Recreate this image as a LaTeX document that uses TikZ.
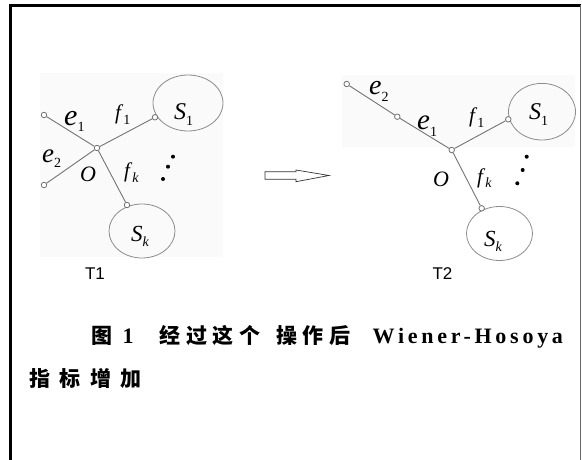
\documentclass[tikz,border=0pt]{standalone}
\usepackage{fontspec}
\setmainfont{Liberation Serif}
\newfontfamily\capcjk[LetterSpace=26]{Noto Sans CJK SC}
\newfontfamily\capcjkb[LetterSpace=44]{Noto Sans CJK SC}
\newfontfamily\caplat[LetterSpace=17]{Liberation Serif}
\newfontfamily\tlab{Liberation Sans}
\usetikzlibrary{shapes.geometric}
\newcommand\sublab[3]{\fontsize{#3}{#3}\selectfont\textit{#1}\raisebox{-0.22em}{\fontsize{14}{14}\selectfont #2}}
\begin{document}
\begin{tikzpicture}[x=1pt,y=-1pt,
  vtx/.style={circle,draw=black!55,fill=white,line width=0.8pt,inner sep=0pt,minimum size=5.5pt},
  edge/.style={draw=black!55,line width=0.9pt},
  blob/.style={ellipse,draw=black!45,line width=0.8pt,inner sep=0pt},
  lab/.style={anchor=base west,inner sep=0pt,text=black},
  dotn/.style={circle,fill=black,inner sep=0pt,minimum size=4pt},
  ttl/.style={font=\tlab\fontsize{17}{17}\selectfont,inner sep=0pt}]
\useasboundingbox (0,0) rectangle (582,460);
% faint scan backgrounds
\fill[black!2] (40,73) rectangle (223,257);
\fill[black!2] (342,75) rectangle (575,147);
% frame
\draw[black,line width=2.3pt] (10.5,460) -- (10.5,5.5) -- (581,5.5);
\draw[black!60,line width=1pt] (580.7,5.5) -- (580.7,460);

% ---------- T1 ----------
\node[blob,minimum width=70pt,minimum height=56pt] (as1) at (188,103) {};
\node[blob,minimum width=66pt,minimum height=54pt] (ask) at (142,231) {};
\node[vtx] (ae1) at (44,115) {};
\node[vtx] (ae2) at (44,185) {};
\node[vtx] (ao) at (97,148) {};
\node[vtx] (af1) at (155,117.3) {};
\node[vtx] (afk) at (127,205) {};
\draw[edge] (ae1) -- (ao);
\draw[edge] (ae2) -- (ao);
\draw[edge] (ao) -- (af1);
\draw[edge] (ao) -- (afk);
\node[lab] (le1a) at (64,125) {\sublab{e}{1}{30}};
\node[lab] (le2a) at (42,162) {\sublab{e}{2}{27}};
\node[lab] (lf1a) at (115,119.5) {\sublab{f}{1}{21}};
\node[lab] (loa) at (80,181.5) {\fontsize{22}{22}\selectfont\textit{O}};
\node[lab] (lfka) at (124,178) {\sublab{f}{\textit{k}}{21}};
\node[lab] (ls1a) at (174,120) {\sublab{S}{1}{24}};
\node[lab] (lska) at (131,241.7) {\sublab{S}{\textit{k}}{23}};
\node[dotn] (da1) at (173,156.7) {};
\node[dotn] (da2) at (168,166.7) {};
\node[dotn] (da3) at (163,179) {};
\node[ttl] (t1) at (95,273.5) {T1};

% ---------- arrow ----------
\draw[black!80,line width=0.7pt] (265,171.7) -- (296,171.7) -- (296,170) -- (329,175.5) -- (296,181.7) -- (296,179.3) -- (265,179.3) -- cycle;

% ---------- T2 ----------
\node[blob,minimum width=67pt,minimum height=56.6pt] (bs1) at (542,111.7) {};
\node[blob,minimum width=66pt,minimum height=54pt] (bsk) at (499.5,233.5) {};
\node[vtx] (be2) at (346.7,84) {};
\node[vtx] (be1) at (397.3,116.7) {};
\node[vtx] (bo) at (451.7,150) {};
\node[vtx] (bf1) at (508.3,119.3) {};
\node[vtx] (bfk) at (481.7,208.3) {};
\draw[edge] (be2) -- (be1);
\draw[edge] (be1) -- (bo);
\draw[edge] (bo) -- (bf1);
\draw[edge] (bo) -- (bfk);
\node[lab] (le2b) at (369,95) {\sublab{e}{2}{28}};
\node[lab] (le1b) at (417,130) {\sublab{e}{1}{29}};
\node[lab] (lf1b) at (469,123) {\sublab{f}{1}{21}};
\node[lab] (lob) at (433,186.5) {\fontsize{22}{22}\selectfont\textit{O}};
\node[lab] (lfkb) at (477,183) {\sublab{f}{\textit{k}}{21}};
\node[lab] (ls1b) at (529,120) {\sublab{S}{1}{24}};
\node[lab] (lskb) at (484,246.7) {\sublab{S}{\textit{k}}{23}};
\node[dotn] (db1) at (526.7,156.7) {};
\node[dotn] (db2) at (522.7,170) {};
\node[dotn] (db3) at (517.3,183.3) {};
\node[ttl] (t2) at (442.5,273.5) {T2};

% ---------- caption ----------
\node[anchor=base west,inner sep=0pt] (cap1) at (91,343) {\fontsize{21}{21}\selectfont{\capcjk\bfseries 图}\hspace{10.5pt}{\caplat\bfseries\fontsize{22}{22}\selectfont 1}\hspace{26pt}{\capcjk\bfseries 经过这个}\hspace{16.3pt}{\capcjk\bfseries 操作后}\hspace{22.4pt}{\caplat\bfseries\fontsize{22}{22}\selectfont Wiener-Hosoya}};
\node[anchor=base west,inner sep=0pt] (cap2) at (29.5,386) {\fontsize{21}{21}\selectfont\capcjkb\bfseries 指标增加};
\end{tikzpicture}
\end{document}
